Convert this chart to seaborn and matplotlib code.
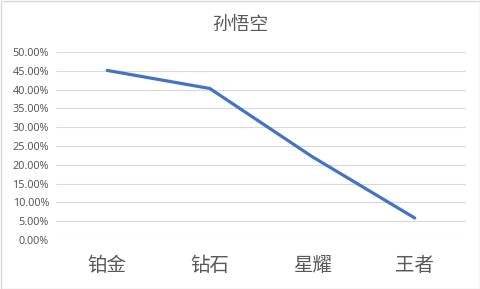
import matplotlib
matplotlib.use("Agg")
import matplotlib.pyplot as plt
import seaborn as sns
import pandas as pd
from matplotlib.ticker import PercentFormatter, MultipleLocator
from matplotlib.patches import Rectangle

categories = ["铂金", "钻石", "星耀", "王者"]
values = [0.451, 0.403, 0.2215, 0.0585]
title = "孙悟空"

sns.set_theme(style="white")
plt.rcParams['font.family'] = ['Noto Sans CJK SC', 'DejaVu Sans']

df = pd.DataFrame({"cat": categories, "val": values})

fig = plt.figure(figsize=(4.81, 2.89), dpi=100)
ax = fig.add_axes([56/481, 1-240/289, 410/481, 188/289])
sns.lineplot(data=df, x="cat", y="val", ax=ax, sort=False, color="#4472C4", linewidth=2.3)

ax.set_xlim(-0.5, 3.5)
ax.set_ylim(0, 0.5)
ax.yaxis.set_major_locator(MultipleLocator(0.05))
ax.yaxis.set_major_formatter(PercentFormatter(1.0, decimals=2))
ax.grid(axis="y", color="#D9D9D9", linewidth=0.8)
ax.grid(axis="x", visible=False)
ax.set_axisbelow(True)
for s in ax.spines.values():
    s.set_visible(False)
ax.set_xlabel("")
ax.set_ylabel("")
ax.tick_params(axis="y", length=0, pad=5, labelsize=7.8, labelcolor="#595959")
ax.tick_params(axis="x", length=0, pad=11, labelsize=14, labelcolor="#595959")
for lab in ax.get_yticklabels():
    lab.set_fontfamily(['Noto Sans', 'DejaVu Sans'])

fig.text(0.5, 1-24/289, title, ha="center", va="center", fontsize=13.5, color="#595959")
fig.patches.append(Rectangle((0.5/481, 0.5/289), 1-1/481, 1-1/289, transform=fig.transFigure,
                             fill=False, edgecolor="#D9D9D9", linewidth=1))

fig.savefig("out.png", dpi=100)
